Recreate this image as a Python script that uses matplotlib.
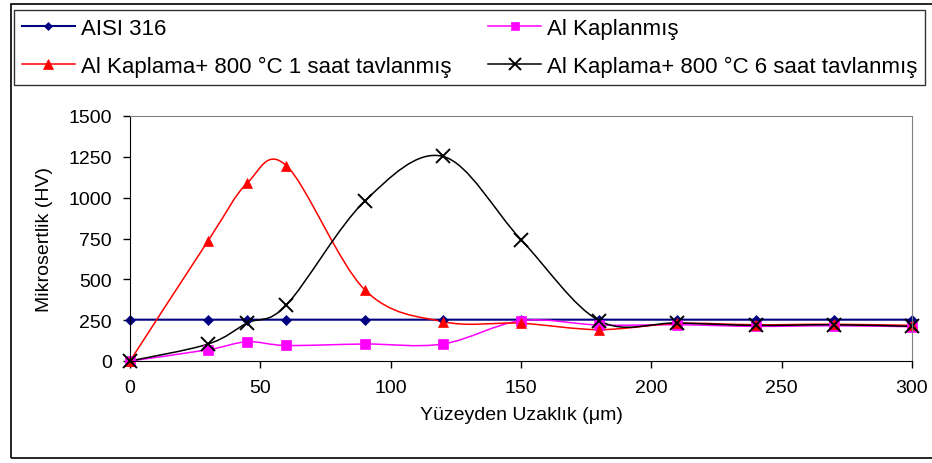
import numpy as np
import matplotlib
matplotlib.use("Agg")
from matplotlib import pyplot as plt
from matplotlib.path import Path
from matplotlib.patches import PathPatch, Rectangle
from matplotlib.lines import Line2D

plt.rcParams['font.family'] = ['Liberation Sans', 'DejaVu Sans']

# veriler
mesafe = [0, 30, 45, 60, 90, 120, 150, 180, 210, 240, 270, 300]
aisi316 = [253, 253, 253, 253, 253, 253, 253, 253, 253, 253, 253, 253]
al_kaplanmis = [0, 69, 118, 95, 104, 104, 247, 220, 222, 212, 216, 210]
tavlama_1saat = [0, 737, 1090, 1196, 437, 241, 231, 192, 230, 222, 225, 218]
tavlama_6saat = [0, 104, 233, 343, 978, 1253, 743, 247, 233, 218, 222, 212]

etiketler = ["AISI 316", "Al Kaplanmış",
             "Al Kaplama+ 800 °C 1 saat tavlanmış",
             "Al Kaplama+ 800 °C 6 saat tavlanmış"]
renkler = ["#000080", "#FF00FF", "#FF0000", "#000000"]
isaretler = ["D", "s", "^", "x"]
boyutlar = [5, 7, 7.5, 10]
seriler = [aisi316, al_kaplanmis, tavlama_1saat, tavlama_6saat]


def yumusak_yol(x, y):
    # Excel tarzı yumuşatılmış çizgi (Catmull-Rom -> Bezier)
    p = np.column_stack([x, y]).astype(float)
    n = len(p)
    verts = [p[0]]
    codes = [Path.MOVETO]
    for i in range(n - 1):
        p0 = p[i - 1] if i > 0 else p[i]
        p1 = p[i]
        p2 = p[i + 1]
        p3 = p[i + 2] if i + 2 < n else p[i + 1]
        c1 = p1 + (p2 - p0) / 6.0
        c2 = p2 - (p3 - p1) / 6.0
        verts += [c1, c2, p2]
        codes += [Path.CURVE4] * 3
    return Path(verts, codes)


fig = plt.figure(figsize=(9.32, 4.64), dpi=100)
ax = fig.add_axes([130 / 932, 1 - 362 / 464, 782 / 932, 245 / 464])

lw = [1.5, 1.1, 1.1, 1.1]
for s, r, m, b, w in zip(seriler, renkler, isaretler, boyutlar, lw):
    ax.add_patch(PathPatch(yumusak_yol(mesafe, s), facecolor='none',
                           edgecolor=r, lw=w, clip_on=False))
    ax.plot(mesafe, s, ls='none', marker=m, ms=b, color=r, mec=r,
            mew=1.4 if m == 'x' else 0.5, clip_on=False)

ax.set_xlim(0, 300)
ax.set_ylim(0, 1500)
ax.set_xticks(range(0, 301, 50))
ax.set_yticks(range(0, 1501, 250))
ax.tick_params(axis='both', labelsize=14, length=5, width=1, pad=8,
               direction='out')

for k in ['top', 'right']:
    ax.spines[k].set_color('#808080')
ax.spines['left'].set_color('black')
ax.spines['bottom'].set_color('black')

ax.set_xlabel("Yüzeyden Uzaklık (μm)", fontsize=14)
ax.set_ylabel("Mikrosertlik (HV)", fontsize=14)
ax.xaxis.set_label_coords(0.5, -0.185)
ax.yaxis.set_label_coords(-0.099, 0.5)

# lejant (satır satır: sütun öncelikli doldurma için sıra değişimi)
tutamaclar = [Line2D([], [], color=r, marker=m, ms=b * 0.9, lw=w,
                     mew=1.4 if m == 'x' else 0.5)
              for r, m, b, w in zip(renkler, isaretler, boyutlar, lw)]
sira = [0, 2, 1, 3]
leg = fig.legend([tutamaclar[i] for i in sira], [etiketler[i] for i in sira],
                 ncol=2, loc='upper left', mode='expand',
                 bbox_to_anchor=(14 / 932, 1 - 83 / 464, 911 / 932, 72 / 464),
                 borderaxespad=0,
                 fontsize=16, frameon=True, fancybox=False, edgecolor='black',
                 handlelength=2.4, handletextpad=0.25, columnspacing=0.4,
                 borderpad=0.35, labelspacing=0.78)
leg.get_frame().set_linewidth(1.0)

# dış çerçeve
fig.patches.append(Rectangle((11 / 932, 1 - 459 / 464), 1.2, 454 / 464,
                             transform=fig.transFigure, fill=False,
                             edgecolor='black', lw=1.2))

plt.savefig("out.png", dpi=100)
